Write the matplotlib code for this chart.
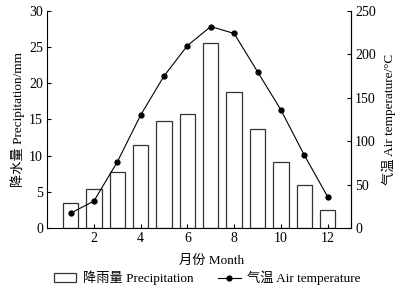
import numpy as np
import matplotlib
matplotlib.use('Agg')
import matplotlib.pyplot as plt

plt.rcParams['font.family'] = ['Liberation Serif', 'Noto Sans CJK SC']
plt.rcParams['mathtext.fontset'] = 'stix'

# monthly data
months = np.arange(1, 13)
precip = [3.4, 5.4, 7.7, 11.5, 14.8, 15.7, 25.5, 18.8, 13.7, 9.1, 6.0, 2.5]
air_temp = [17, 31, 76, 130, 175, 210, 232, 224, 180, 136, 84, 36]
xticks = [2, 4, 6, 8, 10, 12]

fig = plt.figure(figsize=(4.03, 2.91), dpi=100)
ax = fig.add_axes([0.117, 0.2165, 0.754, 0.746])
ax2 = ax.twinx()

b = ax.bar(months, precip, width=0.66, facecolor='white', edgecolor='#333333',
           linewidth=0.9, label='降雨量 Precipitation')
l, = ax2.plot(months, air_temp, color='black', lw=0.8, marker='o', ms=3.5,
              label='气温 Air temperature')

ax.set_xlim(0, 13)
ax.set_ylim(0, 30)
ax2.set_ylim(0, 250)
ax.set_xticks(xticks)
ax.set_yticks([0, 5, 10, 15, 20, 25, 30])
ax2.set_yticks([0, 50, 100, 150, 200, 250])

for a in (ax, ax2):
    a.spines['top'].set_visible(False)
    a.tick_params(direction='in', length=3, width=0.8, labelsize=10, pad=3)
ax2.spines['left'].set_visible(False)
ax2.spines['bottom'].set_visible(False)

ax.set_xlabel('月份 Month', fontsize=9.5)
ax.xaxis.set_label_coords(0.54, -0.125)
ax.set_ylabel('降水量 Precipitation/mm', fontsize=9.5, labelpad=3)
ax2.set_ylabel('气温 Air temperature/°C', fontsize=9.5, labelpad=4)

fig.legend([b, l], ['降雨量 Precipitation', '气温 Air temperature'], ncol=2,
           loc='center', bbox_to_anchor=(0.514, 0.045), frameon=False,
           fontsize=9.5, handlelength=1.7, columnspacing=1.9, handletextpad=0.5)

fig.savefig('out.png', dpi=100)
